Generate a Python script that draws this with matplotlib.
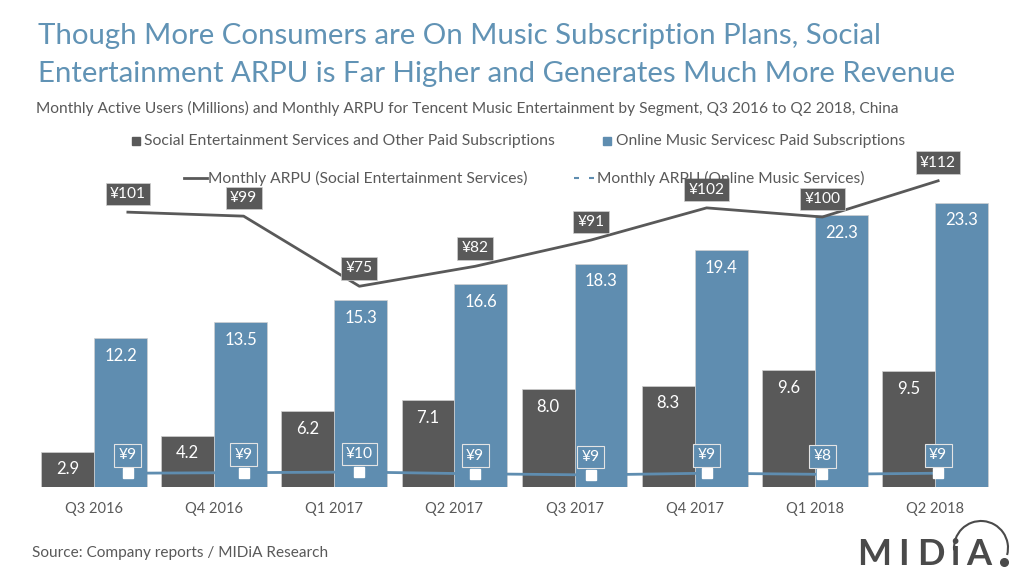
import numpy as np
import matplotlib
matplotlib.use("Agg")
import matplotlib.pyplot as plt
from matplotlib.patches import Arc

plt.rcParams['font.family'] = ['Lato', 'DejaVu Sans']

quarters = ['Q3 2016','Q4 2016','Q1 2017','Q2 2017','Q3 2017','Q4 2017','Q1 2018','Q2 2018']
social_users = [2.9,4.2,6.2,7.1,8.0,8.3,9.6,9.5]
music_users = [12.2,13.5,15.3,16.6,18.3,19.4,22.3,23.3]
social_arpu = [101,99.6,75,82,91.2,102.5,99.3,112]
music_arpu = [9.4,9.6,9.8,9.2,8.8,9.4,9.0,9.4]
social_labels = ['¥101','¥99','¥75','¥82','¥91','¥102','¥100','¥112']
music_labels = ['¥9','¥9','¥10','¥9','¥9','¥9','¥8','¥9']

DARK = '#595959'
BLUE = '#5f8db0'
TITLE = '#6193b5'
LOGO = '#4a4a4a'
W, H = 1024, 576

def box(l, t, r, b):
    return [l/W, 1-b/H, (r-l)/W, (b-t)/H]

fig = plt.figure(figsize=(W/100, H/100), dpi=100)

# bars
ax = fig.add_axes(box(34, 130, 995, 487))
x = np.arange(8)
bw = 0.44
ax.bar(x-bw/2, social_users, bw, color=DARK, edgecolor='#d0d0d0', linewidth=0.5)
ax.bar(x+bw/2, music_users, bw, color=BLUE, edgecolor='#d0d0d0', linewidth=0.5)
ax.set_xlim(-0.5, 7.5)
ax.set_ylim(0, 357/12.2)
ax.set_xticks(x)
ax.set_xticklabels(quarters, fontsize=10.5, color=DARK)
ax.tick_params(length=0, pad=11)
ax.set_yticks([])
for s in ax.spines.values():
    s.set_visible(False)

for i in x:
    ax.annotate(str(social_users[i]), (i-bw/2, social_users[i]), xytext=(0,-7), textcoords='offset points',
                ha='center', va='top', color='white', fontsize=12)
    ax.annotate(str(music_users[i]), (i+bw/2, music_users[i]), xytext=(0,-7), textcoords='offset points',
                ha='center', va='top', color='white', fontsize=12)

# ARPU lines sit on their own axes, offset from the bars
ax2 = fig.add_axes(box(70, 130, 996, 500))
ax2.patch.set_alpha(0)
ax2.set_xlim(-0.5, 7.5)
ax2.set_ylim(0, 370/2.85)
ax2.axis('off')
ax2.plot(x, social_arpu, color=DARK, lw=2)
ax2.plot(x, music_arpu, color=BLUE, lw=2)
ax2.plot(x, music_arpu, ls='none', marker='s', ms=7, mfc='white', mec='white')
for i in x:
    ax2.annotate(social_labels[i], (i, social_arpu[i]), xytext=(0,13), textcoords='offset points',
                 ha='center', va='center', color='white', fontsize=11.2,
                 bbox=dict(boxstyle='square,pad=0.28', fc=DARK, ec='#d0d0d0', lw=0.5))
    ax2.annotate(music_labels[i], (i, music_arpu[i]), xytext=(0,13), textcoords='offset points',
                 ha='center', va='center', color='white', fontsize=11.2,
                 bbox=dict(boxstyle='square,pad=0.28', fc=BLUE, ec='#e4e4e4', lw=0.8))

# text
fig.text(38/W, 1-36/H, 'Though More Consumers are On Music Subscription Plans, Social', fontsize=21.2, color=TITLE, va='center')
fig.text(38/W, 1-74/H, 'Entertainment ARPU is Far Higher and Generates Much More Revenue', fontsize=21.2, color=TITLE, va='center')
fig.text(36/W, 1-108/H, 'Monthly Active Users (Millions) and Monthly ARPU for Tencent Music Entertainment by Segment, Q3 2016 to Q2 2018, China',
         fontsize=11.2, color=DARK, va='center')
fig.text(32/W, 1-553/H, 'Source: Company reports / MIDiA Research', fontsize=11.1, color=DARK, va='center')

# legend
fig.text(144/W, 1-141/H, 'Social Entertainment Services and Other Paid Subscriptions', fontsize=11.3, color=DARK, va='center')
fig.text(616/W, 1-141/H, 'Online Music Servicesc Paid Subscriptions', fontsize=11.25, color=DARK, va='center')
fig.text(208/W, 1-178/H, 'Monthly ARPU (Social Entertainment Services)', fontsize=11.25, color=DARK, va='center')
fig.text(597/W, 1-178/H, 'Monthly ARPU (Online Music Services)', fontsize=11.25, color=DARK, va='center')

ov = fig.add_axes([0, 0, 1, 1])
ov.set_xlim(0, W)
ov.set_ylim(H, 0)
ov.axis('off')
ov.patch.set_alpha(0)
ov.plot([136], [141], marker='s', ms=6, color=DARK, ls='none')
ov.plot([607], [141], marker='s', ms=6, color=BLUE, ls='none')
ov.plot([184, 207], [178, 178], color=DARK, lw=2)
ov.plot([574, 596], [178, 178], color=BLUE, lw=1.5, dashes=(2.4, 4.8))

# logo
for letter, lx in zip('MIDiA', [857, 898, 917, 950, 966]):
    ov.text(lx, 565, letter, fontsize=26, fontweight='bold', color=LOGO, va='baseline', ha='left')
ov.plot([1004], [562], marker='o', ms=5.5, color=LOGO)
ov.add_patch(Arc((981, 548), 54, 54, theta1=175, theta2=375, color=LOGO, lw=1.5))

fig.savefig('out.png', dpi=100)
